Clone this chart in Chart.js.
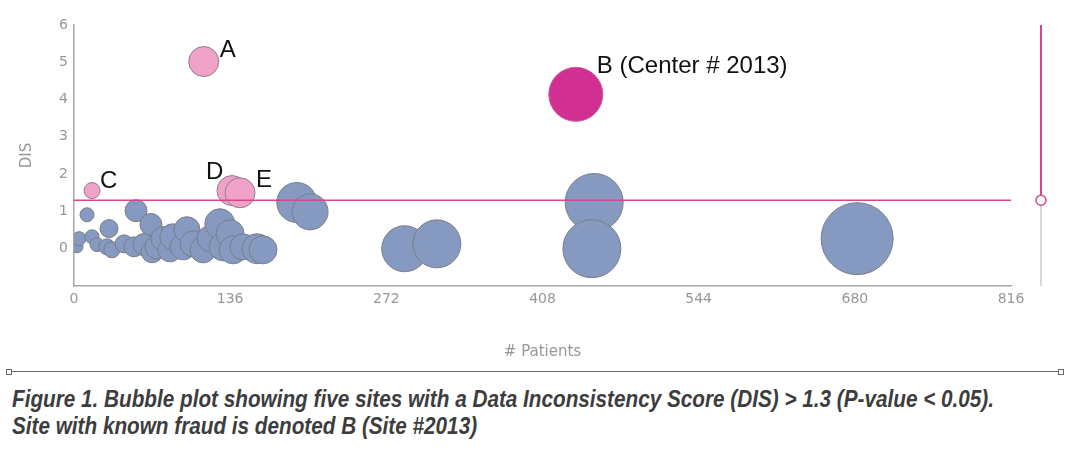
<!DOCTYPE html>
<html>
<head>
<meta charset="utf-8">
<script src="https://cdn.jsdelivr.net/npm/chart.js@4/dist/chart.umd.min.js"></script>
<style>
  body { margin: 0; background: #fff; width: 1075px; height: 462px; overflow: hidden; }
  #wrap { position: relative; width: 1075px; height: 365px; }
  #rule { position: absolute; left: 10px; top: 371px; width: 1050px; height: 0; border-top: 1.5px solid #666; }
  .end { position: absolute; top: 369px; width: 4px; height: 4px; border: 1px solid #666; background: #fff; }
  #caption {
    position: absolute; left: 12px; top: 385px;
    font-family: "Liberation Sans", Arial, sans-serif;
    font-weight: bold; font-style: italic; font-size: 24px; line-height: 27px;
    color: #3d3d3d; white-space: nowrap; transform-origin: 0 0;
  }
</style>
</head>
<body>
<div id="wrap"><canvas id="chart"></canvas></div>
<div id="rule"></div>
<div class="end" style="left:6px"></div>
<div class="end" style="left:1058px"></div>
<div id="caption"><span id="cap1">Figure 1. Bubble plot showing five sites with a Data Inconsistency Score (DIS) &gt; 1.3 (P-value &lt; 0.05).</span><br>Site with known fraud is denoted B (Site #2013)</div>
<script>
// sites under the threshold
const sitePatients = [2.6, 4.4, 11.3, 15.7, 20, 28.7, 30.5, 33, 43.6, 52.3, 54, 61, 67, 68, 72.3, 77.5, 83.6, 86, 95, 98.4, 103.7, 112.4, 118.5, 127, 129.8, 135.9, 138.5, 147.2, 159.4, 164.6, 194, 205.6, 288, 316, 453, 451, 682];
const siteDIS      = [0.05, 0.27, 0.91, 0.32, 0.11, 0.05, 0.54, -0.03, 0.13, 0.05, 1.02, 0.11, 0.65, -0.08, 0.05, 0.27, -0.03, 0.32, 0.05, 0.51, 0.13, -0.03, 0.27, 0.67, 0.05, 0.4, -0.03, 0.05, 0, -0.03, 1.24, 0.99, 0, 0.13, 1.24, 0, 0.27];
const siteSize     = [6, 7, 7, 7, 7, 8, 9, 8, 9, 10, 11, 11, 11, 11, 12, 12, 12, 13, 13, 13, 13, 13, 13, 15, 14, 14, 14, 13, 15, 14, 20, 18, 23, 24, 29, 29, 36];

// flagged sites (DIS > 1.3)
const flagLabels   = ["A", "B (Center # 2013)", "C", "D", "E"];
const flagPatients = [113, 437, 15.7, 137.6, 144.6];
const flagDIS      = [5.02, 4.14, 1.56, 1.56, 1.5];
const flagSize     = [15, 27, 8, 15, 15];

const threshold = 1.3;
const xTicks = [0, 136, 272, 408, 544, 680, 816];

const blue = "#8599c1";
const pinkLight = "#f1a2c9";
const magenta = "#d22f92";
const lineCol = "#d6468f";

function toPoints(xs, ys, rs) {
  return xs.map((x, i) => ({ x: x, y: ys[i], r: rs[i] }));
}

// label offsets (pixels) for flagged sites
const labelOffset = { "A": [16, -11], "B (Center # 2013)": [21, -28], "C": [8, -9], "D": [-26, -18], "E": [16, -12] };

const labelPlugin = {
  id: "labels",
  afterDatasetsDraw(chart) {
    const ctx = chart.ctx;
    const meta = chart.getDatasetMeta(1);
    ctx.save();
    ctx.font = "24px 'Liberation Sans', Arial, sans-serif";
    ctx.fillStyle = "#111";
    ctx.textBaseline = "middle";
    ctx.textAlign = "left";
    meta.data.forEach((pt, i) => {
      const off = labelOffset[flagLabels[i]];
      ctx.fillText(flagLabels[i], pt.x + off[0], pt.y + off[1]);
    });
    ctx.restore();
  }
};

// threshold slider on the right
const sliderPlugin = {
  id: "slider",
  afterDraw(chart) {
    const ctx = chart.ctx;
    const y = chart.scales.y;
    const x = chart.chartArea.right + 30;
    const yTop = y.getPixelForValue(6);
    const yThr = y.getPixelForValue(threshold);
    const yBot = y.getPixelForValue(-1);
    ctx.save();
    ctx.lineWidth = 2;
    ctx.strokeStyle = lineCol;
    ctx.beginPath(); ctx.moveTo(x, yTop); ctx.lineTo(x, yThr); ctx.stroke();
    ctx.strokeStyle = "#d8d8d8";
    ctx.beginPath(); ctx.moveTo(x, yThr); ctx.lineTo(x, yBot); ctx.stroke();
    ctx.fillStyle = "#fff";
    ctx.strokeStyle = lineCol;
    ctx.lineWidth = 1.5;
    ctx.beginPath(); ctx.arc(x, yThr, 5, 0, Math.PI * 2); ctx.fill(); ctx.stroke();
    ctx.restore();
  }
};

const tickFont = { family: "'DejaVu Sans', sans-serif", size: 14 };
const grey = "#979797";

new Chart(document.getElementById("chart"), {
  type: "bubble",
  data: {
    datasets: [
      {
        type: "line",
        data: [{ x: 0, y: threshold }, { x: xTicks[xTicks.length - 1], y: threshold }],
        borderColor: lineCol, borderWidth: 1.5, pointRadius: 0, fill: false
      },
      {
        data: toPoints(flagPatients, flagDIS, flagSize),
        backgroundColor: flagLabels.map((l, i) => i == 1 ? magenta : pinkLight),
        borderColor: flagLabels.map((l, i) => i == 1 ? "#c9579c" : "#8a7f88"),
        borderWidth: 1
      },
      {
        data: toPoints(sitePatients, siteDIS, siteSize),
        backgroundColor: blue, borderColor: "#7b7d86", borderWidth: 1
      }
    ]
  },
  options: {
    responsive: true,
    maintainAspectRatio: false,
    animation: false,
    layout: { autoPadding: false, padding: { top: 25, right: 64, left: 0, bottom: 0 } },
    plugins: { legend: { display: false }, tooltip: { enabled: false } },
    scales: {
      x: {
        type: "linear", min: 0, max: 816,
        afterBuildTicks: s => { s.ticks = xTicks.map(v => ({ value: v })); },
        grid: { display: false, drawTicks: false },
        border: { color: "#a8a8a8", width: 1.5 },
        ticks: { color: grey, font: tickFont, padding: 5, maxRotation: 0 },
        title: { display: true, text: "# Patients", color: grey, font: { family: tickFont.family, size: 15 }, padding: { top: 15 } },
        afterFit: s => { s.height = 79; }
      },
      y: {
        min: -1, max: 6,
        grid: { display: false, drawTicks: false },
        border: { color: "#a8a8a8", width: 1.5 },
        ticks: { stepSize: 1, color: grey, font: tickFont, padding: 6, callback: v => v < 0 ? "" : v },
        title: { display: true, text: "DIS", color: grey, font: { family: tickFont.family, size: 15 }, padding: { top: 18 } },
        afterFit: s => { s.width = 74; }
      }
    }
  },
  plugins: [labelPlugin, sliderPlugin]
});

// fit the caption's first line to the figure width
const cap = document.getElementById("caption");
const w = document.getElementById("cap1").getBoundingClientRect().width;
cap.style.transform = "scaleX(" + (982 / w) + ")";
</script>
</body>
</html>
